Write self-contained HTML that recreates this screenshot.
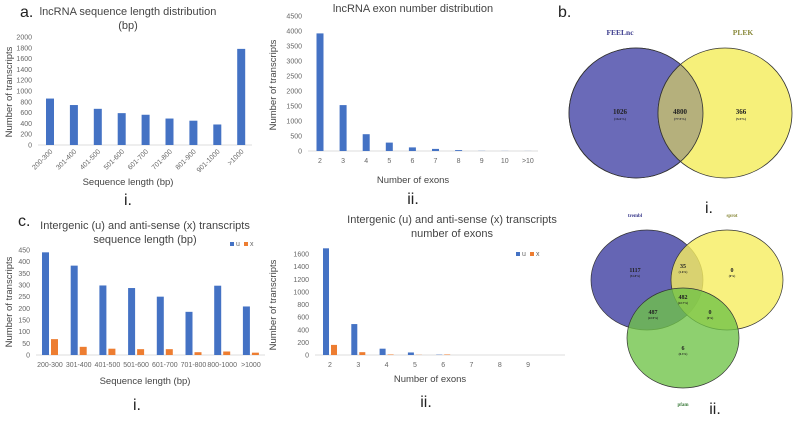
<!DOCTYPE html>
<html><head><meta charset="utf-8"><style>
body{margin:0;background:#fff}
svg{font-family:"Liberation Sans",sans-serif;display:block}
.tk{font-size:7px;fill:#666}
.tt{font-size:11px;fill:#444}
.at{font-size:9.5px;fill:#444}
.pl{font-size:16px;fill:#222}
.vn{font-family:"Liberation Serif",serif;font-weight:bold}
</style></head><body>
<svg id="s" width="800" height="421" viewBox="0 0 800 421">
<text x="20" y="17" class="pl">a.</text>
<text x="128" y="15" text-anchor="middle" class="tt">lncRNA sequence length distribution</text>
<text x="128" y="29" text-anchor="middle" class="tt">(bp)</text>
<text x="128" y="185" text-anchor="middle" class="at">Sequence length (bp)</text>
<text x="12" y="92" text-anchor="middle" class="at" transform="rotate(-90 12 92)">Number of transcripts</text>
<text x="128" y="205" text-anchor="middle" class="pl">i.</text>

<text x="413" y="12" text-anchor="middle" class="tt">lncRNA exon number distribution</text>
<text x="413" y="183" text-anchor="middle" class="at">Number of exons</text>
<text x="276" y="85" text-anchor="middle" class="at" transform="rotate(-90 276 85)">Number of transcripts</text>
<text x="413" y="204" text-anchor="middle" class="pl">ii.</text>

<text x="18" y="226" class="pl">c.</text>
<text x="145" y="229" text-anchor="middle" class="tt">Intergenic (u) and anti-sense (x) transcripts</text>
<text x="145" y="243" text-anchor="middle" class="tt">sequence length (bp)</text>
<text x="145" y="384" text-anchor="middle" class="at">Sequence length (bp)</text>
<text x="12" y="302" text-anchor="middle" class="at" transform="rotate(-90 12 302)">Number of transcripts</text>
<text x="137" y="410" text-anchor="middle" class="pl">i.</text>

<text x="452" y="223" text-anchor="middle" class="tt">Intergenic (u) and anti-sense (x) transcripts</text>
<text x="452" y="237" text-anchor="middle" class="tt">number of exons</text>
<text x="430" y="382" text-anchor="middle" class="at">Number of exons</text>
<text x="276" y="305" text-anchor="middle" class="at" transform="rotate(-90 276 305)">Number of transcripts</text>
<text x="426" y="407" text-anchor="middle" class="pl">ii.</text>

<!-- Venn b -->
<defs>
<clipPath id="cl"><ellipse cx="636" cy="113" rx="67" ry="65"/></clipPath>
</defs>
<text x="558" y="17" class="pl">b.</text>
<text x="620" y="35" text-anchor="middle" class="vn" font-size="7.5" fill="#3b3b8c">FEELnc</text>
<text x="743" y="35" text-anchor="middle" class="vn" font-size="7.5" fill="#8a8a3c">PLEK</text>
<ellipse cx="636" cy="113" rx="67" ry="65" fill="#6a6ab8" stroke="#333" stroke-width="0.8"/>
<ellipse cx="725" cy="113" rx="67" ry="65" fill="#f6f07a" stroke="#333" stroke-width="0.8"/>
<ellipse cx="725" cy="113" rx="67" ry="65" fill="#b5b07c" stroke="#333" stroke-width="0.8" clip-path="url(#cl)"/>
<ellipse cx="636" cy="113" rx="67" ry="65" fill="none" stroke="#333" stroke-width="0.8"/>
<text x="620" y="114" text-anchor="middle" class="vn" font-size="7" fill="#222">1026</text>
<text x="620" y="120" text-anchor="middle" class="vn" font-size="3.5" fill="#223">(16.6%)</text>
<text x="680" y="114" text-anchor="middle" class="vn" font-size="7" fill="#222">4800</text>
<text x="680" y="120" text-anchor="middle" class="vn" font-size="3.5" fill="#223">(77.5%)</text>
<text x="741" y="114" text-anchor="middle" class="vn" font-size="7" fill="#222">366</text>
<text x="741" y="120" text-anchor="middle" class="vn" font-size="3.5" fill="#223">(5.9%)</text>
<text x="709" y="213" text-anchor="middle" class="pl">i.</text>

<!-- Venn ii -->
<text x="635" y="217" text-anchor="middle" class="vn" font-size="5" fill="#3b3b8c">trembl</text>
<text x="732" y="217" text-anchor="middle" class="vn" font-size="5" fill="#8a8a3c">sprot</text>
<text x="683" y="406" text-anchor="middle" class="vn" font-size="5" fill="#3a7a3a">pfam</text>
<ellipse cx="647" cy="280" rx="56" ry="50" fill="rgba(80,80,170,0.88)" stroke="#333" stroke-width="0.7"/>
<ellipse cx="727" cy="280" rx="56" ry="50" fill="rgba(246,238,95,0.8)" stroke="#333" stroke-width="0.7"/>
<ellipse cx="683" cy="338" rx="56" ry="50" fill="rgba(110,195,70,0.78)" stroke="#333" stroke-width="0.7"/>
<g class="vn" fill="#222" text-anchor="middle">
<text x="635" y="272" font-size="6">1117</text>
<text x="635" y="277" font-size="3">(51.8%)</text>
<text x="683" y="268" font-size="6">35</text>
<text x="683" y="273" font-size="3">(1.6%)</text>
<text x="732" y="272" font-size="6">0</text>
<text x="732" y="277" font-size="3">(0%)</text>
<text x="683" y="299" font-size="6">482</text>
<text x="683" y="304" font-size="3">(22.7%)</text>
<text x="653" y="314" font-size="6">487</text>
<text x="653" y="319" font-size="3">(22.9%)</text>
<text x="710" y="314" font-size="6">0</text>
<text x="710" y="319" font-size="3">(0%)</text>
<text x="683" y="350" font-size="6">6</text>
<text x="683" y="355" font-size="3">(0.3%)</text>
</g>
<text x="715" y="414" text-anchor="middle" class="pl">ii.</text>
</svg>
<script>
const a1Cats=["200-300","301-400","401-500","501-600","601-700","701-800","801-900","901-1000",">1000"];
const a1Vals=[860,740,670,590,560,490,450,380,1780];
const a1Ticks=[0,200,400,600,800,1000,1200,1400,1600,1800,2000];
const a2Cats=["2","3","4","5","6","7","8","9","10",">10"];
const a2Vals=[3920,1530,560,280,120,70,30,5,3,2];
const a2Ticks=[0,500,1000,1500,2000,2500,3000,3500,4000,4500];
const c1Cats=["200-300","301-400","401-500","501-600","601-700","701-800","800-1000",">1000"];
const c1U=[440,383,298,287,250,185,297,208];
const c1X=[68,35,27,25,25,12,15,10];
const c1Ticks=[0,50,100,150,200,250,300,350,400,450];
const c2Cats=["2","3","4","5","6","7","8","9"];
const c2U=[1690,490,100,40,5,0,0,0];
const c2X=[160,45,8,3,8,0,0,0];
const c2Ticks=[0,200,400,600,800,1000,1200,1400,1600];

const NS="http://www.w3.org/2000/svg",S=document.getElementById('s');
function el(t,a,txt){const e=document.createElementNS(NS,t);for(const k in a)e.setAttribute(k,a[k]);if(txt!==undefined)e.textContent=txt;S.appendChild(e);return e;}
function chart(o){
  const y=v=>o.y0-(v/o.max)*(o.y0-o.y1);
  const x=i=>o.x0+i*o.step;
  o.ticks.forEach(t=>{
    const e=el('text',{x:o.lx,y:y(t)+2.5,'text-anchor':'end',class:'tk'},String(t));
    
    
  });
  const ax=el('line',{x1:o.ax0,x2:o.ax1,y1:o.y0,y2:o.y0,stroke:'#d0d0d0','stroke-width':0.8});
  
  
  o.cats.forEach((c,i)=>{
    let e;
    if(o.rot){e=el('text',{x:x(i)+3,y:o.y0+7,'text-anchor':'end',class:'tk',transform:`rotate(-45 ${x(i)+3} ${o.y0+7})`},c);}
    else e=el('text',{x:x(i),y:o.y0+12,'text-anchor':'middle',class:'tk'},c);
    
    
  });
  o.series.forEach((s,si)=>{
    s.vals.forEach((v,i)=>{
      const cx=x(i)+s.off;
      const r=el('rect',{x:cx-o.bw/2,y:y(v),width:o.bw,height:o.y0-y(v),fill:s.color});
      
      
    });
  });
}
chart({id:'chart-a1',cats:a1Cats,ticks:a1Ticks,max:2000,y0:145,y1:37,x0:50,step:23.9,bw:8,lx:32,ax0:38,ax1:252,rot:true,series:[{name:'count',vals:a1Vals,off:0,color:'#4472c4'}]});
chart({id:'chart-a2',cats:a2Cats,ticks:a2Ticks,max:4500,y0:151,y1:16,x0:320,step:23.1,bw:7,lx:302,ax0:308,ax1:538,rot:false,series:[{name:'count',vals:a2Vals,off:0,color:'#4472c4'}]});
chart({id:'chart-c1',cats:c1Cats,ticks:c1Ticks,max:450,y0:355,y1:250,x0:50,step:28.7,bw:7,lx:30,ax0:36,ax1:265,rot:false,series:[{name:'u',vals:c1U,off:-4.5,color:'#4472c4'},{name:'x',vals:c1X,off:4.5,color:'#ed7d31'}]});
chart({id:'chart-c2',cats:c2Cats,ticks:c2Ticks,max:1600,y0:355,y1:254,x0:330,step:28.3,bw:6,lx:309,ax0:315,ax1:565,rot:false,series:[{name:'u',vals:c2U,off:-4,color:'#4472c4'},{name:'x',vals:c2X,off:4,color:'#ed7d31'}]});
// legends
[[230,246,'c1'],[516,256,'c2']].forEach(([lx,ly,id])=>{
  const a=el('rect',{x:lx,y:ly-4,width:4,height:4,fill:'#4472c4'});
  
  
  const t=el('text',{x:lx+6,y:ly,class:'tk'},'u');
  
  
  const b=el('rect',{x:lx+14,y:ly-4,width:4,height:4,fill:'#ed7d31'});
  
  
  const u=el('text',{x:lx+20,y:ly,class:'tk'},'x');
  
  
});
</script>
</body></html>
